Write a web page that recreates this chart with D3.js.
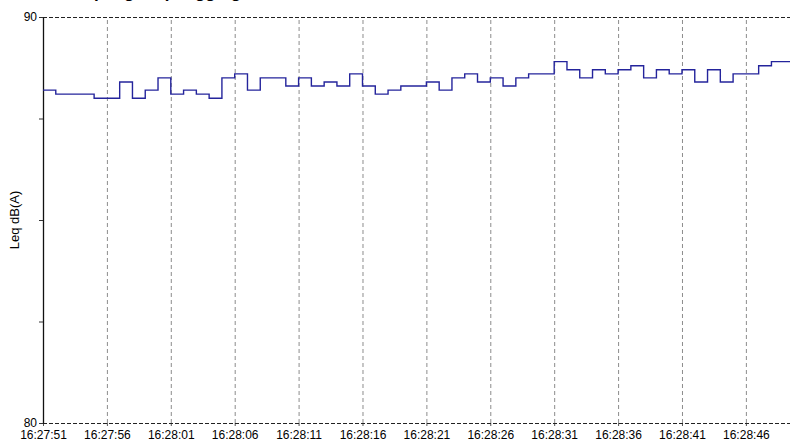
<!DOCTYPE html>
<html>
<head>
<meta charset="utf-8">
<script src="https://cdn.jsdelivr.net/npm/d3@7"></script>
<style>
  body { margin: 0; background: #fff; }
  text { font-family: "Liberation Sans", Arial, sans-serif; }
</style>
</head>
<body>
<div id="chart"></div>
<script>
// one reading per second, starting at 16:27:51
const startTime = "16:27:51";
const endTime = "16:28:50";
const leqValues = [
    88.2, 88.1, 88.1, 88.1, 88.0, 88.0, 88.4, 88.0, 88.2, 88.5,
    88.1, 88.2, 88.1, 88.0, 88.5, 88.6, 88.2, 88.5, 88.5, 88.3,
    88.5, 88.3, 88.4, 88.3, 88.6, 88.3, 88.1, 88.2, 88.3, 88.3,
    88.4, 88.2, 88.5, 88.6, 88.4, 88.5, 88.3, 88.5, 88.6, 88.6,
    88.9, 88.7, 88.5, 88.7, 88.6, 88.7, 88.8, 88.5, 88.7, 88.6,
    88.7, 88.4, 88.7, 88.4, 88.6, 88.6, 88.8, 88.9, 88.9
];
const xTickLabels = [
    "16:27:51", "16:27:56", "16:28:01", "16:28:06", "16:28:11", "16:28:16",
    "16:28:21", "16:28:26", "16:28:31", "16:28:36", "16:28:41", "16:28:46"
];
const yTicks = [80, 82.5, 85, 87.5, 90];
const yLabelled = [80, 90];

const width = 790, height = 441;
const margin = { top: 17, left: 43, bottom: 18 };

const parse = d3.timeParse("%H:%M:%S");
const t0 = parse(startTime);

const data = leqValues.map((v, i) => ({ t: d3.timeSecond.offset(t0, i), v: v }));
// hold the last value until the end of its second
data.push({ t: d3.timeSecond.offset(t0, leqValues.length), v: leqValues[leqValues.length - 1] });

const svg = d3.select("#chart").append("svg")
    .attr("width", width)
    .attr("height", height);

const x = d3.scaleTime()
    .domain([t0, parse(endTime)])
    .range([margin.left, 797]);

const y = d3.scaleLinear()
    .domain([80, 90])
    .range([height - margin.bottom, margin.top]);

const plotH = y(80) - y(90);

// title (sits mostly above the top edge, only descenders show)
svg.append("text")
    .attr("x", 58)
    .attr("y", -2)
    .style("font-size", "17px")
    .style("font-weight", "bold")
    .text("Sampling Leq Logging");

// vertical grid
svg.append("g")
    .attr("transform", `translate(0,${y(80)})`)
    .call(d3.axisBottom(x)
        .tickValues(xTickLabels.map(parse))
        .tickSize(-plotH)
        .tickSizeOuter(0)
        .tickFormat(""))
    .call(g => g.select(".domain").remove())
    .call(g => g.selectAll(".tick line")
        .attr("stroke", "#8c8c8c")
        .attr("stroke-dasharray", "4,3"));

// x axis ticks and labels
svg.append("g")
    .attr("transform", `translate(0,${y(80)})`)
    .call(d3.axisBottom(x)
        .tickValues(xTickLabels.map(parse))
        .tickSize(3)
        .tickSizeOuter(0)
        .tickFormat(d3.timeFormat("%H:%M:%S")))
    .call(g => g.select(".domain").remove())
    .call(g => g.selectAll(".tick line").attr("stroke", "#555"))
    .call(g => g.selectAll(".tick text")
        .attr("y", 7)
        .style("font-size", "12px")
        .style("font-family", "'Liberation Sans', Arial, sans-serif")
        .attr("fill", "#000"));

// top and bottom dashed borders
svg.selectAll(".hborder")
    .data([80, 90])
    .enter()
    .append("line")
    .attr("class", "hborder")
    .attr("x1", margin.left)
    .attr("x2", width)
    .attr("y1", d => y(d) + 0.5)
    .attr("y2", d => y(d) + 0.5)
    .attr("stroke", "#222")
    .attr("stroke-dasharray", "4,2");

// y axis
svg.append("g")
    .attr("transform", `translate(${margin.left},0)`)
    .call(d3.axisLeft(y)
        .tickValues(yTicks)
        .tickSize(4)
        .tickSizeOuter(0)
        .tickFormat(d => yLabelled.includes(d) ? d : ""))
    .call(g => g.select(".domain").attr("stroke", "#111").attr("stroke-width", 1.3))
    .call(g => g.selectAll(".tick line").attr("stroke", "#333"))
    .call(g => g.selectAll(".tick text")
        .attr("x", -6)
        .style("font-size", "12px")
        .style("font-family", "'Liberation Sans', Arial, sans-serif")
        .attr("fill", "#000"));

// y label
svg.append("text")
    .attr("transform", `translate(19,${(y(80) + y(90)) / 2}) rotate(-90)`)
    .attr("text-anchor", "middle")
    .style("font-size", "13px")
    .text("Leq dB(A)");

// step line
const line = d3.line()
    .x(d => x(d.t))
    .y(d => y(d.v))
    .curve(d3.curveStepAfter);

svg.append("path")
    .datum(data)
    .attr("fill", "none")
    .attr("stroke", "#24249c")
    .attr("stroke-width", 1.4)
    .attr("d", line);
</script>
</body>
</html>
